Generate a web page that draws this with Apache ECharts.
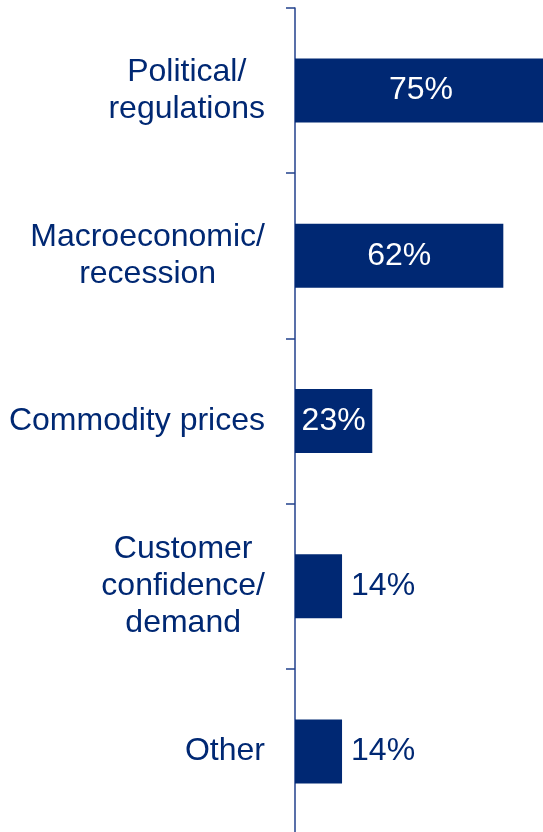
<!DOCTYPE html>
<html>
<head>
<meta charset="utf-8">
<script src="https://cdn.jsdelivr.net/npm/echarts@6/dist/echarts.min.js"></script>
<style>
  html, body { margin: 0; padding: 0; background: #fff; }
  #chart { width: 543px; height: 832px; }
</style>
</head>
<body>
<div id="chart"></div>
<script>
// categories, top to bottom
var categories = ['Political/\nregulations', 'Macroeconomic/\nrecession', 'Commodity prices', 'Customer\nconfidence/\ndemand', 'Other'];
var values = [75, 62, 23, 14, 14];
// values under this are labelled beside the bar, not inside it
var insideMin = 20;

var navy = '#002873';
var font = "'Liberation Sans', Arial, sans-serif";

var seriesData = [];
for (let i = 0; i < values.length; i++) {
  var inside = values[i] >= insideMin;
  seriesData.push({
    value: values[i],
    label: {
      position: inside ? 'inside' : 'right',
      distance: 9,
      color: inside ? '#fff' : navy
    }
  });
}

var option = {
  animation: false,
  // plot runs past the right edge, so the 75% bar is cut off
  grid: { left: 295, width: 336, top: 8, height: 826, containLabel: false, outerBoundsMode: 'none' },
  xAxis: { type: 'value', min: 0, max: 100, show: false },
  yAxis: {
    type: 'category',
    inverse: true,
    data: categories,
    axisLine: { show: true, lineStyle: { color: '#22418c', width: 1.5 } },
    axisTick: { show: true, length: 9, lineStyle: { color: '#22418c', width: 1.5 } },
    axisLabel: {
      margin: 30,
      formatter: function (v) {
        return v.split('\n').map(function (s) { return '{c|' + s + '}'; }).join('\n');
      },
      rich: {
        c: { align: 'center', fontSize: 32, lineHeight: 37, color: navy, fontFamily: font }
      }
    }
  },
  series: [{
    type: 'bar',
    data: seriesData,
    barWidth: 64,
    itemStyle: { color: navy },
    label: {
      show: true,
      fontSize: 32,
      fontFamily: font,
      formatter: '{c}%'
    }
  }]
};

var myChart = echarts.init(document.getElementById('chart'));
myChart.setOption(option);
</script>
</body>
</html>
